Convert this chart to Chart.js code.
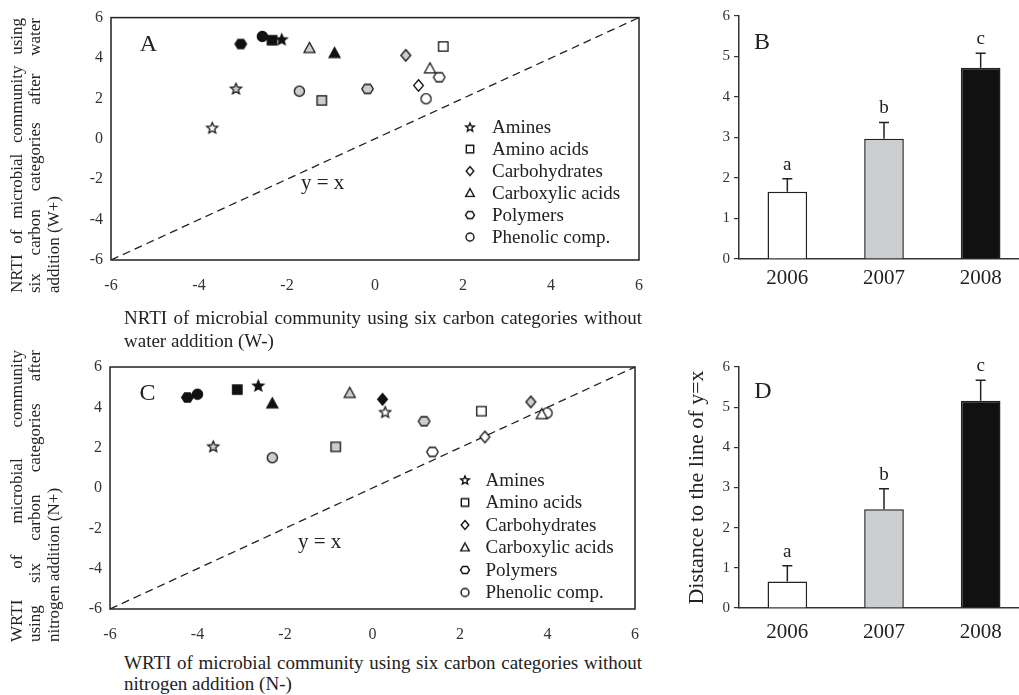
<!DOCTYPE html>
<html>
<head>
<meta charset="utf-8">
<script src="https://cdn.jsdelivr.net/npm/chart.js@4.4.0/dist/chart.umd.min.js"></script>
<style>
body { margin: 0; background: #fff; width: 1019px; height: 695px; overflow: hidden; position: relative;
       font-family: "Liberation Serif", "Times New Roman", serif; color: #222; }
canvas { position: absolute; }
.j { text-align: justify; text-align-last: justify; }
.rot { position: absolute; transform-origin: 0 0; transform: rotate(-90deg); font-size: 17px; line-height: 18.3px; white-space: normal; }
.xt { position: absolute; font-size: 19px; line-height: 22.5px; }
</style>
</head>
<body>
<canvas id="panelA" width="600" height="300" style="left:60px; top:0px;"></canvas>
<canvas id="panelB" width="350" height="300" style="left:680px; top:0px;"></canvas>
<canvas id="panelC" width="600" height="310" style="left:60px; top:340px;"></canvas>
<canvas id="panelD" width="350" height="310" style="left:680px; top:340px;"></canvas>

<div class="rot" style="left:8px; top:293px; width:275px;">
  <div class="j">NRTI of microbial community using</div>
  <div class="j">six carbon categories after water</div>
  <div>addition (W+)</div>
</div>
<div class="xt" style="left:124px; top:307px; width:518px;">
  <div class="j">NRTI of microbial community using six carbon categories without</div>
  <div>water addition (W-)</div>
</div>

<div class="rot" style="left:8px; top:642px; width:292px;">
  <div class="j">WRTI of microbial community</div>
  <div class="j">using six carbon categories after</div>
  <div>nitrogen addition (N+)</div>
</div>
<div class="xt" style="left:124px; top:652px; width:518px; line-height:21px;">
  <div class="j">WRTI of microbial community using six carbon categories without</div>
  <div>nitrogen addition (N-)</div>
</div>

<script>
const years = ['2006', '2007', '2008'];
const categories = ['Amines', 'Amino acids', 'Carbohydrates', 'Carboxylic acids', 'Polymers', 'Phenolic comp.'];
const shapes = ['star', 'square', 'diamond', 'triangle', 'hexagon', 'circle'];
const yearFills = ['#ffffff', '#cdcecf', '#111111'];
const axisTicks = [-6, -4, -2, 0, 2, 4, 6];
const barTicks = [0, 1, 2, 3, 4, 5, 6];

// panel A: rows = categories, columns = years (null = not visible)
const aX = [
    [-3.70, -3.16, -2.12],
    [1.55, -1.21, -2.34],
    [0.99, 0.70, null],
    [1.25, -1.49, -0.92],
    [1.46, -0.17, -3.05],
    [1.16, -1.72, -2.56]
];
const aY = [
    [0.55, 2.49, 4.93],
    [4.57, 1.90, 4.88],
    [2.64, 4.13, null],
    [3.48, 4.49, 4.24],
    [3.05, 2.47, 4.69],
    [1.98, 2.36, 5.07]
];

// panel C
const cX = [
    [0.29, -3.64, -2.61],
    [2.49, -0.84, -3.09],
    [2.57, 3.62, 0.23],
    [3.87, -0.52, -2.29],
    [1.37, 1.18, -4.23],
    [3.99, -2.29, -4.00]
];
const cY = [
    [3.77, 2.07, 5.08],
    [3.81, 2.04, 4.88],
    [2.53, 4.27, 4.40],
    [3.66, 4.71, 4.19],
    [1.79, 3.31, 4.49],
    [3.72, 1.50, 4.65]
];

// panels B and D
const bValues = [1.66, 2.97, 4.72];
const bErrors = [0.32, 0.40, 0.36];
const dValues = [0.66, 2.46, 5.16];
const dErrors = [0.39, 0.51, 0.51];
const sigLetters = ['a', 'b', 'c'];

const serif = '"Liberation Serif", "Times New Roman", serif';
Chart.defaults.font.family = serif;
Chart.defaults.color = '#222';

function makeMarker(shape, fill, size, lw) {
    var c = document.createElement('canvas');
    var s = Math.ceil(size + lw * 2 + 2);
    c.width = s; c.height = s;
    var g = c.getContext('2d');
    var r = size / 2, cx = s / 2, cy = s / 2;
    g.beginPath();
    if (shape == 'star') {
        for (var i = 0; i < 10; i++) {
            var rr = i % 2 ? r * 0.45 : r;
            var ang = -Math.PI / 2 + i * Math.PI / 5;
            g.lineTo(cx + rr * Math.cos(ang), cy + rr * Math.sin(ang) + r * 0.1);
        }
    } else if (shape == 'square') {
        g.rect(cx - r * 0.82, cy - r * 0.82, r * 1.64, r * 1.64);
    } else if (shape == 'diamond') {
        g.moveTo(cx, cy - r); g.lineTo(cx + r * 0.85, cy); g.lineTo(cx, cy + r); g.lineTo(cx - r * 0.85, cy);
    } else if (shape == 'triangle') {
        g.moveTo(cx, cy - r); g.lineTo(cx + r * 0.95, cy + r * 0.75); g.lineTo(cx - r * 0.95, cy + r * 0.75);
    } else if (shape == 'hexagon') {
        for (var k = 0; k < 6; k++) {
            var a = k * Math.PI / 3;
            g.lineTo(cx + r * Math.cos(a), cy + r * 0.9 * Math.sin(a));
        }
    } else {
        g.arc(cx, cy, r * 0.88, 0, Math.PI * 2);
    }
    g.closePath();
    g.fillStyle = fill; g.fill();
    g.lineWidth = lw; g.strokeStyle = '#111'; g.stroke();
    return c;
}

const markers = shapes.map(sh => yearFills.map(f => makeMarker(sh, f, 11.5, 1.3)));
const legendMarkers = shapes.map(sh => makeMarker(sh, '#ffffff', 9, 1.4));

function scatterDecor(letter, eq, lg) {
    return {
        id: 'decor',
        afterDraw(chart) {
            const {ctx, chartArea: a, scales} = chart;
            ctx.save();
            ctx.strokeStyle = '#222';
            ctx.lineWidth = 1.5;
            ctx.strokeRect(a.left, a.top, a.right - a.left, a.bottom - a.top);
            ctx.fillStyle = '#222';
            ctx.textAlign = 'center';
            ctx.textBaseline = 'middle';
            ctx.font = '24px ' + serif;
            ctx.fillText(letter, a.left + 37.5, a.top + 27);
            ctx.font = '21px ' + serif;
            ctx.fillText('y = x', scales.x.getPixelForValue(eq[0]), scales.y.getPixelForValue(eq[1]));
            ctx.font = '19px ' + serif;
            ctx.textAlign = 'left';
            categories.forEach((cat, k) => {
                const y = a.top + lg.y0 + k * lg.dy;
                const m = legendMarkers[k];
                ctx.drawImage(m, a.left + lg.mx - m.width / 2, y - m.height / 2);
                ctx.fillText(cat, a.left + lg.tx, y + 1);
            });
            ctx.restore();
        }
    };
}

function scatterPanel(id, xs, ys, letter, eq, lg, pad, yWidth, xHeight) {
    const datasets = categories.map((cat, k) => ({
        label: cat,
        data: years.map((yr, j) => xs[k][j] === null ? null : {x: xs[k][j], y: ys[k][j], yr: j}).filter(p => p),
        pointStyle: ctx => markers[k][ctx.raw ? ctx.raw.yr : 0],
        pointRadius: 6,
        order: 1
    }));
    // dashed reference line y = x
    datasets.push({
        label: 'y = x',
        data: [{x: axisTicks[0], y: axisTicks[0]}, {x: axisTicks[axisTicks.length - 1], y: axisTicks[axisTicks.length - 1]}],
        showLine: true,
        borderColor: '#222',
        borderWidth: 1.3,
        borderDash: [8, 5],
        pointRadius: 0,
        order: 2
    });
    new Chart(document.getElementById(id), {
        type: 'scatter',
        data: {datasets: datasets},
        options: {
            responsive: false,
            animation: false,
            layout: {padding: pad},
            plugins: {legend: {display: false}, tooltip: {enabled: false}},
            scales: {
                x: {
                    type: 'linear', min: -6, max: 6,
                    afterBuildTicks: s => { s.ticks = axisTicks.map(v => ({value: v})); },
                    afterFit: s => { s.height = xHeight; },
                    grid: {display: false, drawTicks: false},
                    border: {display: false},
                    ticks: {autoSkip: false, maxRotation: 0, padding: 16, color: '#333', font: {size: 16}}
                },
                y: {
                    type: 'linear', min: -6, max: 6,
                    afterBuildTicks: s => { s.ticks = axisTicks.map(v => ({value: v})); },
                    afterFit: s => { s.width = yWidth; },
                    grid: {display: false, drawTicks: false},
                    border: {display: false},
                    ticks: {autoSkip: false, padding: 8, color: '#333', font: {size: 16}}
                }
            }
        },
        plugins: [scatterDecor(letter, eq, lg)]
    });
}

function barDecor(errors, letter, lx, ly) {
    return {
        id: 'barDecor',
        afterDatasetsDraw(chart) {
            const {ctx, chartArea: a, scales: {y}} = chart;
            const meta = chart.getDatasetMeta(0);
            const vals = chart.data.datasets[0].data;
            ctx.save();
            ctx.strokeStyle = '#222';
            ctx.lineWidth = 1.5;
            ctx.fillStyle = '#222';
            ctx.textAlign = 'center';
            ctx.textBaseline = 'middle';
            ctx.font = '19px ' + serif;
            meta.data.forEach((bar, i) => {
                const top = y.getPixelForValue(vals[i] + errors[i]);
                ctx.beginPath();
                ctx.moveTo(bar.x, bar.y);
                ctx.lineTo(bar.x, top);
                ctx.moveTo(bar.x - 5, top);
                ctx.lineTo(bar.x + 5, top);
                ctx.stroke();
                ctx.fillText(sigLetters[i], bar.x, top - 14);
            });
            ctx.font = '24px ' + serif;
            ctx.fillText(letter, a.left + lx, a.top + ly);
            ctx.restore();
        }
    };
}

function barPanel(id, values, errors, letter, lx, ly, padTop, xHeight, xPad, yTitle) {
    new Chart(document.getElementById(id), {
        type: 'bar',
        data: {
            labels: years,
            datasets: [{
                data: values,
                backgroundColor: yearFills,
                borderColor: '#222',
                borderWidth: 1.5,
                barPercentage: 0.41,
                categoryPercentage: 1
            }]
        },
        options: {
            responsive: false,
            animation: false,
            layout: {padding: {left: 0, right: 1, top: padTop, bottom: 0}},
            plugins: {legend: {display: false}, tooltip: {enabled: false}},
            scales: {
                x: {
                    afterFit: s => { s.height = xHeight; },
                    grid: {display: false, drawTicks: false},
                    border: {display: true, color: '#333', width: 1.5},
                    ticks: {padding: xPad, color: '#222', font: {size: 21}}
                },
                y: {
                    min: 0, max: 6,
                    afterBuildTicks: s => { s.ticks = barTicks.map(v => ({value: v})); },
                    afterFit: s => { s.width = 59; },
                    grid: {display: true, drawOnChartArea: false, drawTicks: true, tickLength: 5, color: '#333', lineWidth: 1.2},
                    border: {display: true, color: '#333', width: 1.5},
                    ticks: {padding: 4, color: '#333', font: {size: 15}},
                    title: {display: !!yTitle, text: yTitle || '', color: '#222', font: {size: 22}, padding: {top: 4, bottom: 0}}
                }
            }
        },
        plugins: [barDecor(errors, letter, lx, ly)]
    });
}

scatterPanel('panelA', aX, aY, 'A', [-1.19, -2.21],
    {mx: 359, tx: 381, y0: 109.5, dy: 22},
    {left: 0, right: 21, top: 16, bottom: 0}, 51, 40);

scatterPanel('panelC', cX, cY, 'C', [-1.21, -2.72],
    {mx: 355, tx: 375.5, y0: 113, dy: 22.5},
    {left: 0, right: 25, top: 27, bottom: 0}, 50, 41);

barPanel('panelB', bValues, bErrors, 'B', 23, 27, 16, 41, 7, null);
barPanel('panelD', dValues, dErrors, 'D', 24, 25, 27, 42, 12, 'Distance to the line of y=x');
</script>
</body>
</html>
